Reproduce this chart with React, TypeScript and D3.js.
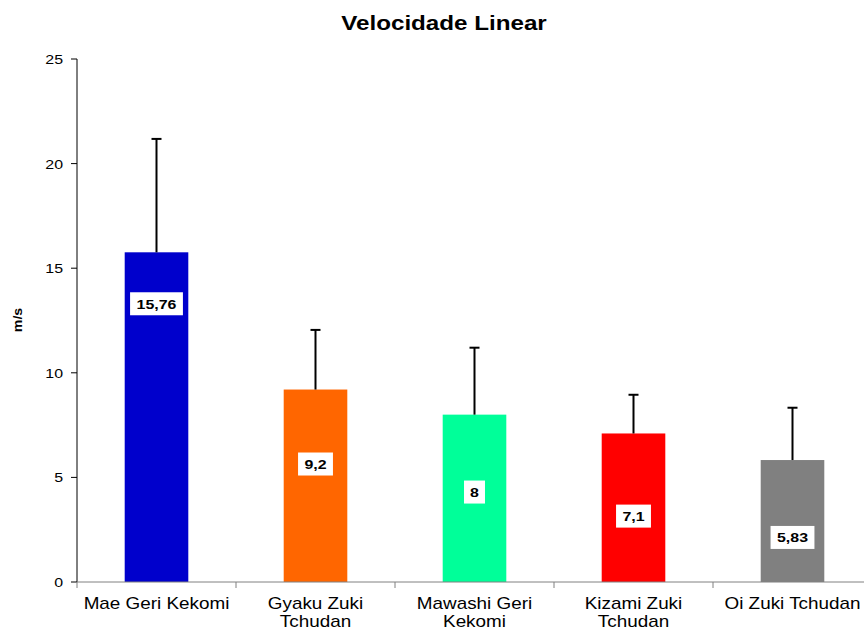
import React from "react";
import * as d3 from "d3";

const categories = [
  ["Mae Geri Kekomi"],
  ["Gyaku Zuki", "Tchudan"],
  ["Mawashi Geri", "Kekomi"],
  ["Kizami Zuki", "Tchudan"],
  ["Oi Zuki Tchudan"],
];
const values = [15.76, 9.2, 8, 7.1, 5.83];
const errors = [5.42, 2.85, 3.2, 1.85, 2.5];
const valueLabels = ["15,76", "9,2", "8", "7,1", "5,83"];
const labelAt = [13.3, 5.64, 4.3, 3.15, 2.13];
const colors = ["#0000CC", "#FF6600", "#00FF99", "#FF0000", "#808080"];
const yTicks = [0, 5, 10, 15, 20, 25];

const W = 864;
const H = 627;
const left = 77;
const plotRight = 872;
const top = 59;
const bottom = 582;
const SX = 1.18;
const FONT = "'Liberation Sans', Arial, sans-serif";

export default function App() {
  const x = d3
    .scaleBand<number>()
    .domain(d3.range(values.length))
    .range([left, plotRight])
    .paddingInner(0.6)
    .paddingOuter(0.3);
  const y = d3.scaleLinear().domain([0, 25]).range([bottom, top]);
  const step = x.step();
  const bw = x.bandwidth();

  return (
    <svg
      width={W}
      height={H}
      style={{ position: "absolute", left: 0, top: 0, background: "#fff" }}
      fontFamily={FONT}
    >
      <rect x={0} y={0} width={W} height={H} fill="#fff" />
      <text
        transform={`translate(444,30) scale(${SX},1)`}
        textAnchor="middle"
        fontSize={20.5}
        fontWeight="bold"
        fill="#000"
      >
        Velocidade Linear
      </text>
      <text
        transform={`translate(22,320) rotate(-90) scale(${SX},1)`}
        textAnchor="middle"
        fontSize={12}
        fontWeight="bold"
        fill="#000"
      >
        m/s
      </text>
      {values.map((v, i) => (
        <rect
          key={"b" + i}
          x={x(i)!}
          y={y(v)}
          width={bw}
          height={y(0) - y(v)}
          fill={colors[i]}
        />
      ))}
      {values.map((v, i) => {
        const cx = x(i)! + bw / 2;
        return (
          <g key={"e" + i} stroke="#000" strokeWidth={2}>
            <line x1={cx} x2={cx} y1={y(v)} y2={y(v + errors[i])} />
            <line x1={cx - 5} x2={cx + 5} y1={y(v + errors[i])} y2={y(v + errors[i])} />
          </g>
        );
      })}
      {values.map((v, i) => {
        const cx = x(i)! + bw / 2;
        const cy = y(labelAt[i]);
        const tw = valueLabels[i].length * 7.6 * SX - (valueLabels[i].includes(",") ? 4 : 0);
        const boxW = tw + 12;
        return (
          <g key={"l" + i}>
            <rect x={cx - boxW / 2} y={cy - 11.5} width={boxW} height={23} fill="#fff" />
            <text
              transform={`translate(${cx},${cy + 5}) scale(${SX},1)`}
              textAnchor="middle"
              fontSize={13.5}
              fontWeight="bold"
              fill="#000"
            >
              {valueLabels[i]}
            </text>
          </g>
        );
      })}
      <line x1={left} x2={left} y1={top} y2={bottom} stroke="#000" strokeWidth={1} />
      {yTicks.map((t) => (
        <g key={"yt" + t}>
          <line x1={left - 6} x2={left} y1={y(t)} y2={y(t)} stroke="#000" />
          <text
            transform={`translate(${left - 14},${y(t) + 5}) scale(${SX},1)`}
            textAnchor="end"
            fontSize={13.5}
            fill="#000"
          >
            {t}
          </text>
        </g>
      ))}
      <line x1={left} x2={plotRight} y1={bottom} y2={bottom} stroke="#808080" strokeWidth={1} />
      {d3.range(values.length + 1).map((i) => (
        <line
          key={"xt" + i}
          x1={left + i * step}
          x2={left + i * step}
          y1={bottom}
          y2={bottom + 6}
          stroke="#808080"
        />
      ))}
      {categories.map((lines, i) => {
        const cx = x(i)! + bw / 2;
        return (
          <g key={"xl" + i}>
            {lines.map((ln, j) => (
              <text
                key={j}
                transform={`translate(${cx},${609 + j * 18}) scale(${SX},1)`}
                textAnchor="middle"
                fontSize={16}
                fill="#000"
              >
                {ln}
              </text>
            ))}
          </g>
        );
      })}
    </svg>
  );
}
